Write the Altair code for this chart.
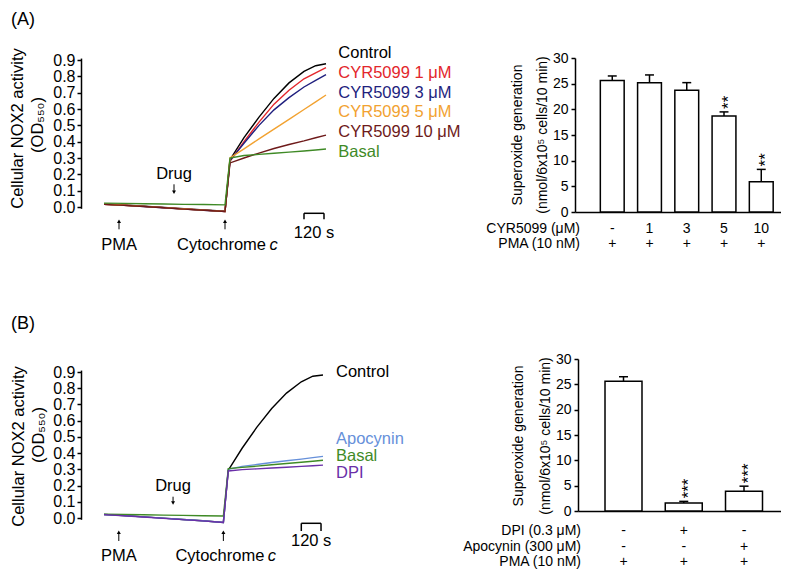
import altair as alt
import pandas as pd

FONT = "Liberation Sans, Arial, Helvetica, sans-serif"

# ---------------- trace data (time in s, OD550) ----------------
time_s = [0, 120, 240, 360, 480, 600, 726, 756, 840, 930, 1020, 1110, 1200, 1270, 1332]

a_names = ["Control", "CYR5099 1 μM", "CYR5099 3 μM", "CYR5099 5 μM", "CYR5099 10 μM", "Basal"]
a_colors = ["#000000", "#e3262b", "#1f1f7e", "#f2a231", "#6e1a1a", "#3f8a26"]
a_control = [0.018, 0.012, 0.005, -0.003, -0.011, -0.018, -0.026, 0.290, 0.425, 0.550, 0.665, 0.760, 0.830, 0.865, 0.877]
a_cyr1 = [0.017, 0.011, 0.004, -0.004, -0.012, -0.019, -0.027, 0.280, 0.400, 0.520, 0.630, 0.715, 0.785, 0.822, 0.853]
a_cyr3 = [0.016, 0.010, 0.003, -0.005, -0.013, -0.020, -0.028, 0.285, 0.390, 0.500, 0.595, 0.670, 0.735, 0.776, 0.810]
a_cyr5 = [0.017, 0.011, 0.004, -0.004, -0.012, -0.019, -0.027, 0.300, 0.356, 0.417, 0.477, 0.537, 0.597, 0.644, 0.686]
a_cyr10 = [0.016, 0.010, 0.003, -0.005, -0.013, -0.020, -0.028, 0.270, 0.300, 0.330, 0.358, 0.383, 0.405, 0.424, 0.440]
a_basal = [0.024, 0.022, 0.020, 0.018, 0.016, 0.015, 0.013, 0.300, 0.315, 0.322, 0.329, 0.336, 0.343, 0.349, 0.355]

b_names = ["Control", "Apocynin", "Basal", "DPI"]
b_colors = ["#000000", "#6690da", "#3f8a26", "#6a2fa8"]
b_control = [0.022, 0.015, 0.007, -0.001, -0.009, -0.017, -0.027, 0.295, 0.430, 0.560, 0.675, 0.770, 0.840, 0.874, 0.882]
b_apocynin = [0.022, 0.015, 0.007, -0.001, -0.009, -0.017, -0.027, 0.300, 0.318, 0.330, 0.342, 0.353, 0.363, 0.372, 0.380]
b_basal = [0.024, 0.022, 0.020, 0.018, 0.016, 0.014, 0.012, 0.305, 0.312, 0.320, 0.328, 0.336, 0.344, 0.350, 0.356]
b_dpi = [0.021, 0.014, 0.006, -0.002, -0.010, -0.018, -0.028, 0.290, 0.298, 0.303, 0.308, 0.313, 0.318, 0.322, 0.326]

pma_time = 90
drug_time = 420
cyt_time = 726
scale_bar_s = [1200, 1320]
od_ticks = [0.0, 0.1, 0.2, 0.3, 0.4, 0.5, 0.6, 0.7, 0.8, 0.9]

# ---------------- bar data ----------------
cyr_pos = [1, 2, 3, 4, 5]
cyr_doses = ["-", "1", "3", "5", "10"]
cyr_pma = ["+", "+", "+", "+", "+"]
cyr_mean = [25.6, 25.2, 23.7, 18.7, 5.9]
cyr_sem = [0.9, 1.5, 1.5, 0.8, 2.4]
cyr_sig = ["", "", "", "**", "**"]

inh_pos = [1, 2, 3]
inh_dpi = ["-", "+", "-"]
inh_apo = ["-", "-", "+"]
inh_pma = ["+", "+", "+"]
inh_mean = [25.6, 1.6, 3.9]
inh_sem = [0.9, 0.3, 1.0]
inh_sig = ["", "***", "***"]
bar_ticks = [0, 5, 10, 15, 20, 25, 30]

# ---------------- helpers ----------------
def text_px(s, x, y, size, color="black", align="left", baseline="middle", angle=0, style="normal"):
    return alt.Chart(pd.DataFrame({"s": [s]})).mark_text(
        font=FONT, fontSize=size, color=color, align=align, baseline=baseline,
        angle=angle, fontStyle=style
    ).encode(x=alt.value(x), y=alt.value(y), text="s:N")


def trace_panel(names, colors, series, xr, y_zero, ppu, width, height, tag, tag_y, tag_base,
                title_x, title_y, leg_x, leg_y, ann, frame=None):
    xs = alt.Scale(domain=[0, 1332], range=xr, nice=False, zero=False)
    ys = alt.Scale(domain=[-0.008, 0.912], range=[y_zero + 0.008 * ppu, y_zero - 0.912 * ppu],
                   nice=False, zero=False)
    X = lambda f: alt.X(f, type="quantitative", scale=xs, axis=None)
    rows = []
    for n, c, vals in zip(names, colors, series):
        for t, v in zip(time_s, vals):
            rows.append({"series": n, "col": c, "t": t, "od": v})
    df = pd.DataFrame(rows)
    layers = [alt.Chart(df).mark_line(strokeWidth=1.4).encode(
        x=X("t"),
        y=alt.Y("od:Q", scale=ys, axis=alt.Axis(values=od_ticks, format=".1f", title=None, tickSize=4,
                                                labelPadding=2, labelFontSize=16, domainWidth=1.5,
                                                tickWidth=1.5, grid=False)),
        color=alt.Color("col:N", scale=None),
        detail="series:N",
    )]
    # legend labels
    for n, c, y in zip(names, colors, leg_y):
        layers.append(text_px(n, leg_x, y, 16.5, color=c))
    # up arrows (PMA, cytochrome c)
    up = pd.DataFrame({"t": [pma_time, cyt_time]})
    a_top, a_bot = ann["arrow"]
    layers.append(alt.Chart(up).mark_rule(color="black", strokeWidth=1).encode(
        x=X("t"), y=alt.value(a_top + 2), y2=alt.value(a_bot)))
    layers.append(alt.Chart(up).mark_point(shape="triangle-up", filled=True, size=16, color="black",
                                           opacity=1, strokeWidth=0).encode(
        x=X("t"), y=alt.value(a_top + 2)))
    # down arrow (drug)
    dn = pd.DataFrame({"t": [drug_time]})
    d_top, d_bot = ann["drug_arrow"]
    layers.append(alt.Chart(dn).mark_rule(color="black", strokeWidth=1).encode(
        x=X("t"), y=alt.value(d_top), y2=alt.value(d_bot - 2)))
    layers.append(alt.Chart(dn).mark_point(shape="triangle-down", filled=True, size=16, color="black",
                                           opacity=1, strokeWidth=0).encode(
        x=X("t"), y=alt.value(d_bot - 2)))
    # event texts
    def text_t(s, t, y, dx=0, align="center", style="normal"):
        return alt.Chart(pd.DataFrame({"s": [s], "t": [t]})).mark_text(
            font=FONT, fontSize=16.5, color="black", align=align, baseline="alphabetic",
            dx=dx, fontStyle=style).encode(x=X("t"), y=alt.value(y), text="s:N")
    layers.append(text_t("PMA", pma_time, ann["text_y"]))
    layers.append(text_t("Cytochrome", cyt_time, ann["text_y"], dx=41, align="right"))
    layers.append(text_t("c", cyt_time, ann["text_y"], dx=44.5, align="left", style="italic"))
    layers.append(text_t("Drug", drug_time, ann["drug_text_y"]))
    # scale bar
    sb_top, sb_bot = ann["bar"]
    layers.append(alt.Chart(pd.DataFrame({"t0": [scale_bar_s[0]], "t1": [scale_bar_s[1]]})).mark_rule(
        color="black", strokeWidth=1.5).encode(x=X("t0"), x2="t1:Q", y=alt.value(sb_top)))
    layers.append(alt.Chart(pd.DataFrame({"t": scale_bar_s})).mark_rule(
        color="black", strokeWidth=1.5).encode(x=X("t"), y=alt.value(sb_top), y2=alt.value(sb_bot)))
    layers.append(text_t("120 s", sum(scale_bar_s) / 2, ann["bar_text_y"]))
    # panel tag and y title
    layers.append(text_px(tag, -70, tag_y, 18, baseline=tag_base))
    layers.append(text_px("Cellular NOX2 activity", title_x[0], title_y[0], 16.5, align="center", angle=270))
    layers.append(text_px("(OD₅₅₀)", title_x[1], title_y[1], 16.5, align="center", angle=270))
    # invisible frame corner that keeps a small margin round the outermost texts
    if frame is not None:
        layers.append(alt.Chart(pd.DataFrame({"s": [0]})).mark_rule(opacity=0, strokeWidth=0).encode(
            x=alt.value(frame[0]), x2=alt.value(frame[0]), y=alt.value(frame[1]), y2=alt.value(frame[1] + 1)))
    return alt.layer(*layers).properties(width=width, height=height)


def bar_panel(pos, mean, sem, sig, xdom, xr, width, height, halfw, caphw, table, label_x,
              title_x, title_y, yoff):
    df = pd.DataFrame({"pos": pos, "mean": mean, "sem": sem, "sig": sig})
    base = alt.Chart(df).transform_calculate(
        top="datum.mean + datum.sem",
        zero="0",
        x0=f"datum.pos - {halfw}",
        x1=f"datum.pos + {halfw}",
        c0=f"datum.pos - {caphw}",
        c1=f"datum.pos + {caphw}",
    )
    xs = alt.Scale(domain=xdom, range=xr, nice=False, zero=False)
    ys = alt.Scale(domain=[0, 30], nice=False)
    xax = alt.Axis(title=None, labels=False, ticks=False, domainWidth=1.5, grid=False)
    yax = alt.Axis(values=bar_ticks, title=None, tickSize=4, labelPadding=3, labelFontSize=14,
                   domainWidth=1.5, tickWidth=1.5, grid=False, offset=yoff)
    X = lambda f: alt.X(f, type="quantitative", scale=xs, axis=xax)
    Y = lambda f: alt.Y(f, type="quantitative", scale=ys, axis=yax)
    layers = [
        base.mark_rect(fill="white", stroke="black", strokeWidth=1.5).encode(
            x=X("x0"), x2="x1:Q", y=Y("mean"), y2="zero:Q"),
        base.mark_rule(color="black", strokeWidth=1.5).encode(x=X("pos"), y=Y("mean"), y2="top:Q"),
        base.mark_rule(color="black", strokeWidth=1.5).encode(x=X("c0"), x2="c1:Q", y=Y("top")),
        base.mark_text(font=FONT, fontSize=17, angle=270, align="left", baseline="middle",
                       dx=3, dy=5, color="black").encode(x=X("pos"), y=Y("top"), text="sig:N"),
    ]
    for label, values, y in table:
        layers.append(alt.Chart(pd.DataFrame({"pos": pos, "v": values})).mark_text(
            font=FONT, fontSize=14, color="black", align="center", baseline="middle").encode(
            x=X("pos"), y=alt.value(y), text="v:N"))
        layers.append(text_px(label, label_x, y, 14, align="right"))
    layers.append(text_px("Superoxide generation", title_x[0], title_y, 14, align="center", angle=270))
    layers.append(text_px("(nmol/6x10⁵ cells/10 min)", title_x[1], title_y, 14, align="center", angle=270))
    return alt.layer(*layers).properties(width=width, height=height)


# ---------------- panels ----------------
W_L, W_R = 440, 206

panel_a = trace_panel(
    a_names, a_colors, [a_control, a_cyr1, a_cyr3, a_cyr5, a_cyr10, a_basal],
    xr=[23, 245], y_zero=149, ppu=163.3, width=W_L, height=154,
    tag="(A)", tag_y=-47, tag_base="top",
    title_x=[-63, -43], title_y=[70.5, 67],
    leg_x=257.3, leg_y=[-5.3, 14.7, 34.7, 54, 73.7, 94],
    ann={"arrow": (161.3, 171.3), "drug_arrow": (126.3, 136.3), "text_y": 192.3,
         "drug_text_y": 121, "bar": (155.3, 161.3), "bar_text_y": 179.7},
    frame=(-73, -50),
)

panel_b = trace_panel(
    b_names, b_colors, [b_control, b_apocynin, b_basal, b_dpi],
    xr=[23, 242], y_zero=159, ppu=162.2, width=W_L, height=165,
    tag="(B)", tag_y=-30, tag_base="alphabetic",
    title_x=[-62.5, -42], title_y=[87.5, 76],
    leg_x=255, leg_y=[12.7, 80.3, 97, 113.7],
    ann={"arrow": (171.3, 182), "drug_arrow": (137.7, 146), "text_y": 202,
         "drug_text_y": 132, "bar": (164.3, 172), "bar_text_y": 187},
)

bars_a = bar_panel(
    cyr_pos, cyr_mean, cyr_sem, cyr_sig, xdom=[0, 5.53], xr=[0, W_R], width=W_R, height=154,
    halfw=0.32, caphw=0.12,
    table=[("CYR5099 (μM)", cyr_doses, 171.3), ("PMA (10 nM)", cyr_pma, 186.3)],
    label_x=5, title_x=[-57, -32], title_y=77, yoff=0,
)

bars_b = bar_panel(
    inh_pos, inh_mean, inh_sem, inh_sig, xdom=[0.2448, 3.614], xr=[3, W_R], width=W_R, height=152,
    halfw=0.307, caphw=0.075,
    table=[("DPI (0.3 μM)", inh_dpi, 172), ("Apocynin (300 μM)", inh_apo, 187.7),
           ("PMA (10 nM)", inh_pma, 203)],
    label_x=6, title_x=[-55.7, -29], title_y=77, yoff=-3,
)

chart = alt.concat(
    panel_a, bars_a, panel_b, bars_b,
    columns=2, spacing={"row": 147, "column": 54}, bounds="flush", align="each",
).properties(padding=0).configure_view(stroke=None).configure_axis(
    labelFont=FONT, labelColor="black", domainColor="black", tickColor="black", grid=False
)

chart.save("out.html", embed_options={"renderer": "svg", "actions": False})
